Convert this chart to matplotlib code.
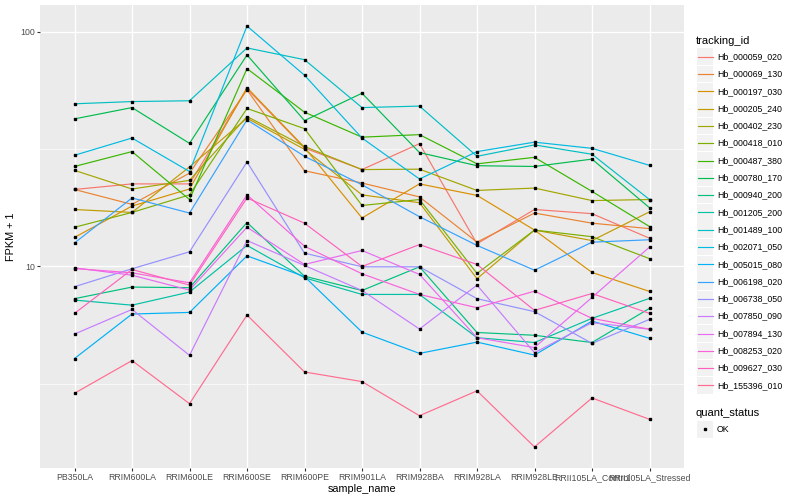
import numpy as np
import matplotlib.pyplot as plt
from matplotlib.patches import Rectangle
from matplotlib.ticker import FixedLocator, FixedFormatter, NullFormatter

plt.rcParams['font.family'] = ['Liberation Sans', 'DejaVu Sans']

samples = ["PB350LA", "RRIM600LA", "RRIM600LE", "RRIM600SE", "RRIM600PE", "RRIM901LA",
           "RRIM928BA", "RRIM928LA", "RRIM928LE", "RRII105LA_Control", "RRII105LA_Stressed"]

tracking_ids = ["Hb_000059_020", "Hb_000069_130", "Hb_000197_030", "Hb_000205_240",
                "Hb_000402_230", "Hb_000418_010", "Hb_000487_380", "Hb_000780_170",
                "Hb_000940_200", "Hb_001205_200", "Hb_001489_100", "Hb_002071_050",
                "Hb_005015_080", "Hb_006198_020", "Hb_006738_050", "Hb_007850_090",
                "Hb_007894_130", "Hb_008253_020", "Hb_009627_030", "Hb_155396_010"]

# ggplot hue palette, 20 levels
hue_colors = ["#F8766D", "#EA8331", "#D89000", "#C09B00", "#A3A500", "#7CAE00", "#39B600",
              "#00BB4E", "#00BF7D", "#00C1A3", "#00BFC4", "#00BAE0", "#00B0F6", "#35A2FF",
              "#9590FF", "#C77CFF", "#E76BF3", "#FA62DB", "#FF62BC", "#FF6C90"]

# FPKM + 1 per sample
hb_000059_020 = [21.3, 22.5, 22.5, 57.2, 32.0, 25.9, 33.4, 12.5, 17.5, 16.8, 13.2]
hb_000069_130 = [21.3, 18.4, 25.0, 56.7, 25.6, 22.7, 19.8, 12.7, 16.9, 15.3, 14.5]
hb_000197_030 = [13.3, 18.1, 21.4, 57.9, 32.2, 16.1, 22.5, 20.1, 14.3, 9.43, 7.83]
hb_000205_240 = [17.5, 17.0, 26.6, 42.9, 31.6, 20.2, 18.7, 8.87, 14.3, 12.9, 17.1]
hb_000402_230 = [25.7, 21.4, 23.3, 43.6, 32.5, 25.9, 26.0, 21.1, 21.6, 19.1, 19.3]
hb_000418_010 = [14.7, 17.0, 20.2, 47.2, 38.7, 18.2, 19.3, 9.34, 14.3, 13.4, 10.8]
hb_000487_380 = [26.7, 30.9, 19.3, 69.8, 45.5, 35.6, 36.5, 27.4, 29.2, 20.9, 14.8]
hb_000780_170 = [42.6, 47.6, 33.5, 79.8, 41.9, 54.8, 30.6, 26.9, 26.7, 28.7, 17.8]
hb_000940_200 = [7.29, 8.17, 8.12, 15.4, 9.09, 7.90, 9.97, 5.23, 5.09, 4.74, 6.63]
hb_001205_200 = [7.19, 6.84, 7.78, 12.3, 8.95, 7.60, 7.60, 4.97, 4.74, 6.01, 7.31]
hb_001489_100 = [49.4, 50.5, 50.9, 85.5, 76.2, 47.6, 48.3, 29.5, 33.0, 30.1, 19.3]
hb_002071_050 = [29.8, 35.3, 25.4, 106.0, 65.4, 35.3, 23.6, 30.9, 33.9, 31.9, 27.0]
hb_005015_080 = [4.05, 6.27, 6.37, 11.1, 9.06, 5.25, 4.26, 4.76, 4.19, 5.85, 4.94]
hb_006198_020 = [12.6, 19.6, 16.9, 42.2, 29.5, 22.3, 16.3, 12.3, 9.64, 12.7, 13.0]
hb_006738_050 = [8.20, 9.78, 11.55, 27.9, 11.4, 9.97, 9.97, 7.29, 6.42, 4.70, 5.95]
hb_007850_090 = [5.15, 6.56, 4.18, 12.9, 10.1, 7.90, 5.41, 8.33, 4.29, 5.76, 5.40]
hb_007894_130 = [9.87, 9.18, 7.93, 14.7, 10.2, 11.7, 9.25, 4.97, 4.51, 7.38, 12.1]
hb_008253_020 = [9.80, 9.40, 8.52, 20.2, 12.2, 9.31, 7.60, 6.67, 7.85, 6.01, 5.40]
hb_009627_030 = [6.31, 9.71, 8.33, 19.6, 15.3, 10.0, 12.4, 10.2, 6.50, 7.67, 6.31]
hb_155396_010 = [2.88, 3.97, 2.60, 6.21, 3.55, 3.23, 2.31, 2.95, 1.70, 2.75, 2.23]

series = [hb_000059_020, hb_000069_130, hb_000197_030, hb_000205_240, hb_000402_230,
          hb_000418_010, hb_000487_380, hb_000780_170, hb_000940_200, hb_001205_200,
          hb_001489_100, hb_002071_050, hb_005015_080, hb_006198_020, hb_006738_050,
          hb_007850_090, hb_007894_130, hb_008253_020, hb_009627_030, hb_155396_010]

fig = plt.figure(figsize=(8, 5), dpi=100)
ax = fig.add_axes([40 / 800, 32 / 500, 644 / 800, 463 / 500])
ax.set_facecolor("#EBEBEB")

x = np.arange(len(samples))
for vals, col in zip(series, hue_colors):
    ax.plot(x, vals, color=col, lw=0.85, zorder=3)
for vals in series:
    ax.plot(x, vals, ls="none", marker="s", ms=2.1, color="black", zorder=4)

ax.set_yscale("log")
ax.set_xlim(-0.6, len(samples) - 0.4)
allv = np.log10(np.concatenate(series))
pad = 0.05 * (allv.max() - allv.min())
ax.set_ylim(10 ** (allv.min() - pad), 10 ** (allv.max() + pad))

ax.yaxis.set_major_locator(FixedLocator([10, 100]))
ax.yaxis.set_major_formatter(FixedFormatter(["10", "100"]))
ax.yaxis.set_minor_locator(FixedLocator([10 ** 0.5, 10 ** 1.5]))
ax.yaxis.set_minor_formatter(NullFormatter())
ax.set_xticks(x)
ax.set_xticklabels(samples)

ax.grid(which="major", color="white", lw=1.0, zorder=0)
ax.grid(which="minor", axis="y", color="white", lw=0.5, zorder=0)
ax.set_axisbelow(True)
for s in ax.spines.values():
    s.set_visible(False)
ax.tick_params(which="major", length=2.2, width=0.8, color="#333333",
               labelsize=6.3, labelcolor="#4D4D4D", pad=1.5)
ax.tick_params(which="minor", length=0)

ax.set_xlabel("sample_name", fontsize=7.8, labelpad=1)
ax.set_ylabel("FPKM + 1", fontsize=7.8, labelpad=3)

# legend drawn in pixel coordinates
lg = fig.add_axes([0, 0, 1, 1])
lg.set_xlim(0, 800)
lg.set_ylim(500, 0)
lg.axis("off")

lg.text(696, 41, "tracking_id", fontsize=8, va="center", ha="left")
key = 17.3
for i, (name, col) in enumerate(zip(tracking_ids, hue_colors)):
    cy = 56.7 + i * key
    lg.add_patch(Rectangle((696.5, cy - key / 2 + 0.4), key - 0.8, key - 0.8,
                           facecolor="#F2F2F2", edgecolor="none"))
    lg.plot([698, 712.5], [cy, cy], color=col, lw=0.85)
    lg.text(717, cy, name, fontsize=6.3, va="center", ha="left")

lg.text(696, 412.5, "quant_status", fontsize=8, va="center", ha="left")
lg.add_patch(Rectangle((696.5, 421), key - 0.8, key - 0.8, facecolor="#F2F2F2", edgecolor="none"))
lg.plot([705], [429.3], ls="none", marker="s", ms=2.1, color="black")
lg.text(717, 429.3, "OK", fontsize=6.3, va="center", ha="left")

fig.savefig("out.png", dpi=100)
